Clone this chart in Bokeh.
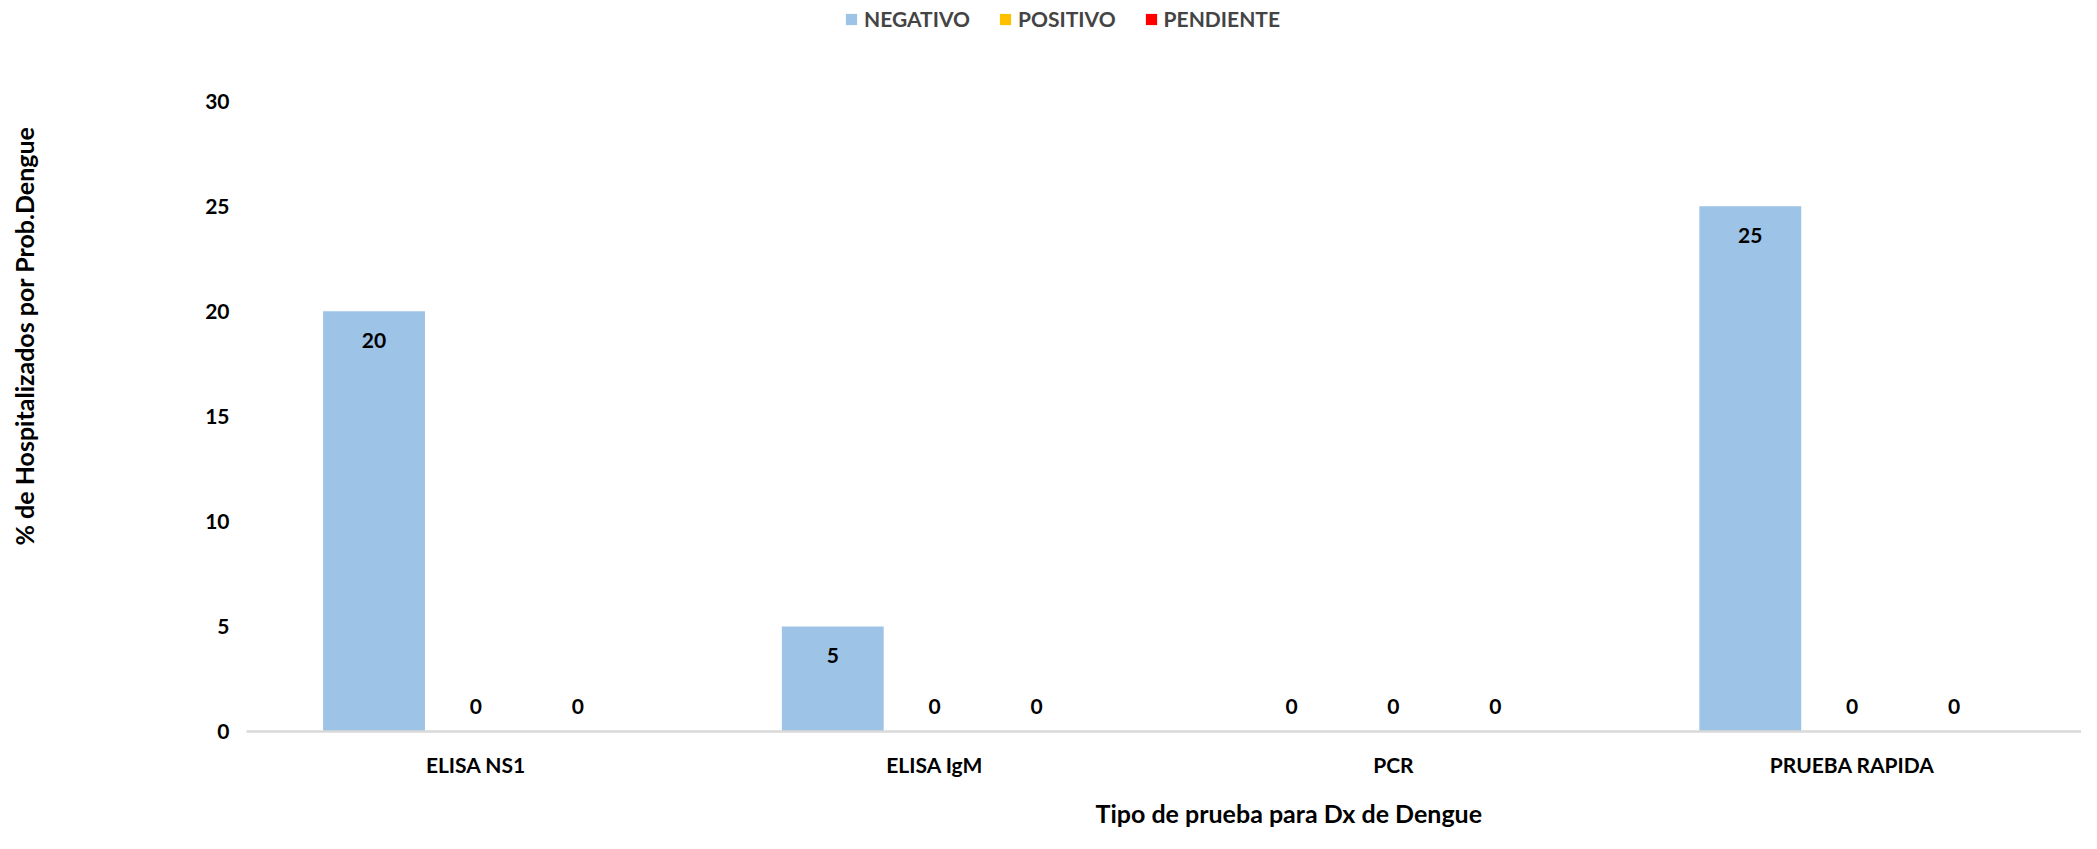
import math
from bokeh.plotting import figure
from bokeh.models import (ColumnDataSource, FactorRange, Range1d, FixedTicker,
                          Legend, LegendItem, Title)
from bokeh.transform import dodge
from bokeh.core.properties import value
from bokeh.embed import file_html
from bokeh.resources import INLINE

# ---- data ----
categories = ["ELISA NS1", "ELISA IgM", "PCR", "PRUEBA RAPIDA"]
series_names = ["NEGATIVO", "POSITIVO", "PENDIENTE"]
negativo = [20, 5, 0, 25]
positivo = [0, 0, 0, 0]
pendiente = [0, 0, 0, 0]
y_ticks = [0, 5, 10, 15, 20, 25, 30]
x_title = "Tipo de prueba para Dx de Dengue"
y_title = "% de Hospitalizados por Prob.Dengue"

# ---- style / layout ----
colors = ["#9DC3E6", "#FFC000", "#FF0000"]
offsets = [-0.222, 0.0, 0.222]
BAR_W = 0.222
FONT = "Lato"
FS = "21px"
TFS = "25px"
W, H = 2081, 833
Y_TOP = 34.79   # frame extends above the 30 tick so the legend sits in it

p = figure(x_range=FactorRange(factors=categories), y_range=Range1d(0, Y_TOP),
           width=W, height=H, output_backend="svg", toolbar_location=None,
           min_border_left=246, min_border_right=0, min_border_top=0,
           min_border_bottom=102)

src = ColumnDataSource(dict(cat=categories, NEGATIVO=negativo,
                            POSITIVO=positivo, PENDIENTE=pendiente))

items = []
for name, col, off in zip(series_names, colors, offsets):
    r = p.vbar(x=dodge("cat", off, range=p.x_range), top=name, width=BAR_W,
               source=src, fill_color=col, line_color=None)
    items.append(LegendItem(label=name, renderers=[r]))
    vals = src.data[name]
    lsrc = ColumnDataSource(dict(cat=categories, v=vals,
                                 t=[str(v) for v in vals],
                                 dy=[29 if v > 0 else -25 for v in vals]))
    p.text(x=dodge("cat", off, range=p.x_range), y="v", text="t", y_offset="dy",
           text_align="center", text_baseline="middle",
           text_font=value(FONT), text_font_style="bold",
           text_font_size=FS, text_color="black", source=lsrc)

legend = Legend(items=items, orientation="horizontal", location=(598, 700),
                glyph_width=14, glyph_height=14, label_standoff=6, spacing=28,
                padding=0, margin=0, border_line_color=None,
                background_fill_alpha=0, label_text_font=FONT,
                label_text_font_style="bold", label_text_font_size=FS,
                label_height=20)
p.add_layout(legend, "center")

# spacers (blank) so the axis titles sit where the reference has them
p.add_layout(Title(text=" ", standoff=2, text_font=FONT,
                   text_font_size="10px"), "below")
p.add_layout(Title(text=x_title, align="left", offset=849, standoff=0,
                   vertical_align="bottom",
                   text_font=FONT, text_font_style="bold",
                   text_font_size=TFS, text_color="black"), "below")
p.add_layout(Title(text=" ", standoff=130.5, text_font=FONT,
                   text_font_size=TFS), "left")
p.add_layout(Title(text=y_title, align="left", offset=186, standoff=0,
                   vertical_align="middle",
                   text_font=FONT, text_font_style="bold",
                   text_font_size=TFS, text_color="black"), "left")

p.xaxis.axis_line_color = "#d9d9d9"
p.xaxis.axis_line_width = 2.5
p.xaxis.major_tick_line_color = None
p.xaxis.minor_tick_line_color = None
p.xaxis.major_label_standoff = 14
p.xaxis.major_label_text_font = FONT
p.xaxis.major_label_text_font_style = "bold"
p.xaxis.major_label_text_font_size = FS
p.xaxis.major_label_text_color = "black"

p.yaxis.ticker = FixedTicker(ticks=y_ticks)
p.yaxis.axis_line_color = None
p.yaxis.major_tick_line_color = None
p.yaxis.minor_tick_line_color = None
p.yaxis.major_label_standoff = 11
p.yaxis.major_label_text_font = FONT
p.yaxis.major_label_text_font_style = "bold"
p.yaxis.major_label_text_font_size = FS
p.yaxis.major_label_text_color = "black"

p.xgrid.grid_line_color = None
p.ygrid.grid_line_color = None
p.outline_line_color = None

open("out.html", "w").write(file_html(p, INLINE))
